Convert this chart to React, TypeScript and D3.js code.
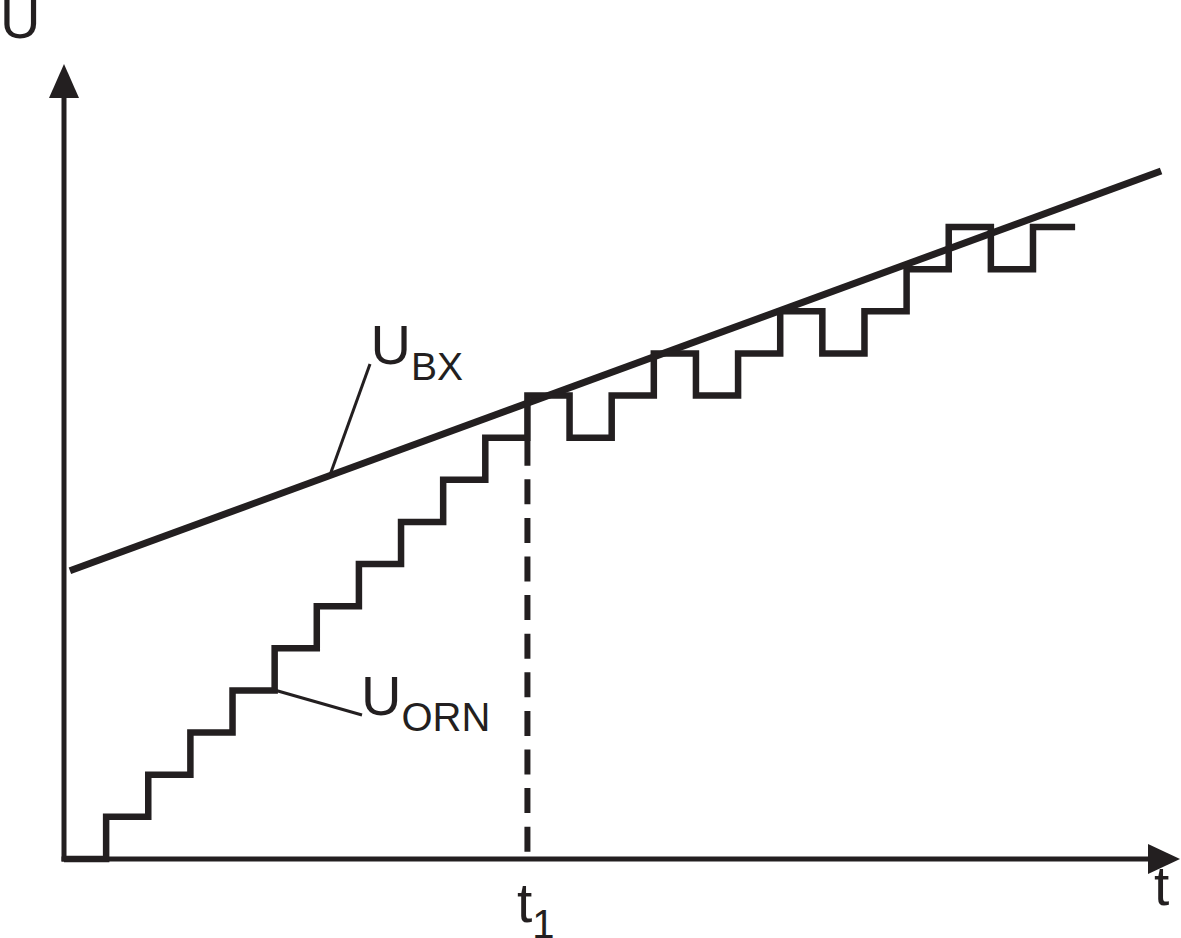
import React from "react";
import * as d3 from "d3";

// Staircase (U_ORN): step boundaries (time units) and level held after each boundary
const stepTimes = [0, 1, 2, 3, 4, 5, 6, 7, 8, 9, 10, 11, 12, 13, 14, 15, 16, 17, 18, 19, 20, 21, 22, 23, 24];
const stepLevels = [0, 1, 2, 3, 4, 5, 6, 7, 8, 9, 10, 11, 10, 11, 12, 11, 12, 13, 12, 13, 14, 15, 14, 15, 15];
// Input voltage ramp (U_BX): two end points
const rampTimes = [0.14, 26.04];
const rampValues = [6.84, 16.33];
// t1 marker
const t1Time = 11;
const t1Level = 10;
// axis extents
const xMax = 26.49;
const yMax = 18.87;

const W = 1181;
const H = 938;
const unit = 42.13;
const ox = 64;
const oy = 859;
const ink = "#231f20";
const font = "'Liberation Sans', Arial, Helvetica, sans-serif";

export default function App() {
  const x = d3.scaleLinear().domain([0, 1]).range([ox, ox + unit]);
  const y = d3.scaleLinear().domain([0, 1]).range([oy, oy - unit]);

  const stairPts: [number, number][] = stepTimes.map((t, i) => [t, stepLevels[i]]);
  const stair = d3
    .line<[number, number]>()
    .x((d) => x(d[0]))
    .y((d) => y(d[1]))
    .curve(d3.curveStepAfter)(stairPts) as string;

  const ramp = d3
    .line<[number, number]>()
    .x((d) => x(d[0]))
    .y((d) => y(d[1]))(rampTimes.map((t, i) => [t, rampValues[i]])) as string;

  const xEnd = x(xMax);
  const yTop = y(yMax);

  // leader anchors
  const bxT = 6.31;
  const rampAt = (t: number) =>
    rampValues[0] + ((rampValues[1] - rampValues[0]) * (t - rampTimes[0])) / (rampTimes[1] - rampTimes[0]);
  const bxAx = x(bxT);
  const bxAy = y(rampAt(bxT));
  const ornAx = x(5) - 2;
  const ornAy = y(4) - 1;

  return (
    <div style={{ position: "absolute", left: 0, top: 0, width: W, height: H, overflow: "hidden" }}>
      <svg width={W} height={H} style={{ display: "block", background: "#fff" }}>
        {/* axes */}
        <line x1={ox} y1={oy + 2.5} x2={ox} y2={yTop + 30} stroke={ink} strokeWidth={5} />
        <polygon points={`${ox},${yTop} ${ox - 15},${yTop + 34} ${ox + 15},${yTop + 34}`} fill={ink} />
        <line x1={ox - 2.5} y1={oy} x2={xEnd - 28} y2={oy} stroke={ink} strokeWidth={5} />
        <polygon points={`${xEnd},${oy} ${xEnd - 32},${oy - 15} ${xEnd - 32},${oy + 15}`} fill={ink} />

        {/* t1 dashed */}
        <line
          x1={x(t1Time)}
          y1={y(t1Level)}
          x2={x(t1Time)}
          y2={oy}
          stroke={ink}
          strokeWidth={6}
          strokeDasharray="25 13.6"
          strokeDashoffset={-3}
        />

        {/* ramp */}
        <path d={ramp} fill="none" stroke={ink} strokeWidth={7} />
        {/* staircase */}
        <path d={stair} fill="none" stroke={ink} strokeWidth={6.5} strokeLinejoin="miter" />

        {/* leaders */}
        <line x1={bxAx} y1={bxAy} x2={370} y2={364} stroke={ink} strokeWidth={3} />
        <line x1={ornAx} y1={ornAy} x2={362} y2={715} stroke={ink} strokeWidth={3} />

        {/* labels */}
        <g fill={ink} fontFamily={font}>
          <text x={0} y={37.5} fontSize={56}>U</text>
          <text x={370.5} y={364} fontSize={56}>
            U<tspan fontSize={39} dy={16}>BX</tspan>
          </text>
          <text x={361} y={715} fontSize={56}>
            U<tspan fontSize={40} dy={16}>ORN</tspan>
          </text>
          <text x={1154} y={905} fontSize={55}>t</text>
          <text x={517} y={922} fontSize={55}>
            t<tspan fontSize={40} dy={16}>1</tspan>
          </text>
        </g>
      </svg>
    </div>
  );
}
